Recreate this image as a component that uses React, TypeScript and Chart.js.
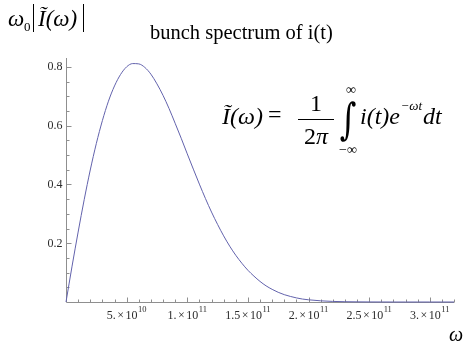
import { useEffect, useRef } from "react";
import { Chart, registerables } from "chart.js";

Chart.register(...registerables);

// Angular frequency samples, in units of 1e10 rad/s
const omegaE10 = [
  0, 0.5, 1, 1.5, 2, 2.5, 3, 3.5, 4, 4.5, 5, 5.5, 6, 6.5, 7, 7.5, 8, 8.5, 9, 9.5,
  10, 10.5, 11, 11.5, 12, 12.5, 13, 13.5, 14, 14.5, 15, 15.5, 16, 16.5, 17, 17.5,
  18, 18.5, 19, 19.5, 20, 21, 22, 23, 24, 25, 26, 27, 28, 29, 30, 31, 32,
];

// Normalised spectrum magnitude ω0·|Ĩ(ω)|
const spectrum = [
  0, 0.122, 0.238, 0.348, 0.449, 0.539, 0.617, 0.683, 0.735, 0.774, 0.8, 0.811,
  0.81, 0.798, 0.775, 0.742, 0.703, 0.658, 0.608, 0.557, 0.504, 0.452, 0.401,
  0.352, 0.306, 0.264, 0.225, 0.19, 0.159, 0.132, 0.108, 0.088, 0.07, 0.055,
  0.043, 0.033, 0.025, 0.019, 0.014, 0.01, 0.0075, 0.004, 0.002, 0.001, 0.0005,
  0.0002, 0.0001, 0, 0, 0, 0, 0, 0,
];

const xMajorTicks = [5e10, 1e11, 1.5e11, 2e11, 2.5e11, 3e11];
const xTickMantissas = ["5.", "1.", "1.5", "2.", "2.5", "3."];
const xTickExponents = ["10", "11", "11", "11", "11", "11"];
const yMajorTicks = [0.2, 0.4, 0.6, 0.8];
const yTickLabels = ["0.2", "0.4", "0.6", "0.8"];

const X_MAX = 3.2e11;
const Y_MAX = 0.83;
const X_MINOR_STEP = 1e10;
const Y_MINOR_STEP = 0.05;

const SERIF = '"Liberation Serif", "Times New Roman", "DejaVu Serif", serif';
const AXIS_COLOR = "#8f8f8f";
const LABEL_COLOR = "#2b2b2b";
const CURVE_COLOR = "rgb(98, 98, 172)";

const axesPlugin = {
  id: "mathAxes",
  beforeDatasetsDraw(chart: any) {
    const { ctx, scales } = chart;
    const xs = scales.x;
    const ys = scales.y;
    const x0 = Math.round(xs.getPixelForValue(0)) + 0.5;
    const y0 = Math.round(ys.getPixelForValue(0)) + 0.5;
    const xEnd = xs.getPixelForValue(X_MAX);
    const yTop = ys.getPixelForValue(Y_MAX);

    ctx.save();
    ctx.strokeStyle = AXIS_COLOR;
    ctx.lineWidth = 1;
    ctx.beginPath();
    ctx.moveTo(x0, y0);
    ctx.lineTo(xEnd, y0);
    ctx.moveTo(x0, y0);
    ctx.lineTo(x0, yTop);

    // x ticks point up into the plot
    for (let i = 1; i * X_MINOR_STEP <= X_MAX + 1; i++) {
      const px = Math.round(xs.getPixelForValue(i * X_MINOR_STEP)) + 0.5;
      const len = i % 5 === 0 ? 5 : 3;
      ctx.moveTo(px, y0);
      ctx.lineTo(px, y0 - len);
    }
    // y ticks point right into the plot
    for (let i = 1; i * Y_MINOR_STEP <= Y_MAX + 1e-9; i++) {
      const py = Math.round(ys.getPixelForValue(i * Y_MINOR_STEP)) + 0.5;
      const len = i % 4 === 0 ? 5 : 3;
      ctx.moveTo(x0, py);
      ctx.lineTo(x0 + len, py);
    }
    ctx.stroke();

    // y tick labels
    ctx.fillStyle = LABEL_COLOR;
    ctx.font = `12px ${SERIF}`;
    ctx.textAlign = "right";
    ctx.textBaseline = "middle";
    yMajorTicks.forEach((v, i) => {
      ctx.fillText(yTickLabels[i], x0 - 4, ys.getPixelForValue(v) + 0.5);
    });

    // x tick labels: mantissa × 10^exponent
    ctx.textAlign = "left";
    ctx.textBaseline = "alphabetic";
    const mainFont = `12px ${SERIF}`;
    const supFont = `8.5px ${SERIF}`;
    const baseY = 319;
    xMajorTicks.forEach((v, i) => {
      ctx.font = mainFont;
      const m = xTickMantissas[i];
      const wm = ctx.measureText(m).width;
      const wx = ctx.measureText("×").width;
      const wt = ctx.measureText("10").width;
      ctx.font = supFont;
      const we = ctx.measureText(xTickExponents[i]).width;
      const gap = 1.5;
      const total = wm + gap + wx + gap + wt + we + 0.5;
      let cx = xs.getPixelForValue(v) - total / 2;
      ctx.font = mainFont;
      ctx.fillText(m, cx, baseY);
      cx += wm + gap;
      ctx.fillText("×", cx, baseY);
      cx += wx + gap;
      ctx.fillText("10", cx, baseY);
      cx += wt + 0.5;
      ctx.font = supFont;
      ctx.fillText(xTickExponents[i], cx, baseY - 7);
    });
    ctx.restore();
  },
};

const textPlugin = {
  id: "annotations",
  afterDraw(chart: any) {
    const { ctx } = chart;
    ctx.save();
    ctx.fillStyle = "#000";
    ctx.strokeStyle = "#000";
    ctx.textBaseline = "alphabetic";
    ctx.textAlign = "left";

    // title
    ctx.font = `20.5px ${SERIF}`;
    ctx.fillText("bunch spectrum of i(t)", 150, 39);

    // vertical axis label ω0|Ĩ(ω)|
    ctx.font = `italic 23px ${SERIF}`;
    ctx.fillText("ω", 8, 26);
    ctx.font = `13px ${SERIF}`;
    ctx.fillText("0", 24, 31);
    ctx.font = `italic 23px ${SERIF}`;
    ctx.fillText("Ĩ(ω)", 38, 26);
    ctx.lineWidth = 1;
    ctx.beginPath();
    ctx.moveTo(33.5, 4);
    ctx.lineTo(33.5, 32);
    ctx.moveTo(83.5, 4);
    ctx.lineTo(83.5, 32);
    ctx.stroke();

    // horizontal axis label ω
    ctx.font = `italic 20px ${SERIF}`;
    ctx.fillText("ω", 449, 341);

    // Fourier transform definition
    const base = 124;
    ctx.font = `italic 24px ${SERIF}`;
    ctx.fillText("Ĩ(ω)", 222, base);
    ctx.font = `24px ${SERIF}`;
    ctx.fillText("=", 268, base - 2);

    ctx.textAlign = "center";
    ctx.fillText("1", 316, 111);
    ctx.beginPath();
    ctx.moveTo(298, 119.5);
    ctx.lineTo(334, 119.5);
    ctx.stroke();
    ctx.textAlign = "left";
    const w2 = ctx.measureText("2").width;
    ctx.font = `italic 24px ${SERIF}`;
    const wpi = ctx.measureText("π").width;
    const x2 = 316 - (w2 + wpi) / 2;
    ctx.font = `24px ${SERIF}`;
    ctx.fillText("2", x2, 144);
    ctx.font = `italic 24px ${SERIF}`;
    ctx.fillText("π", x2 + w2, 144);

    // integral sign with limits
    ctx.save();
    ctx.translate(348, 134);
    ctx.scale(1, 1.35);
    ctx.font = `32px "DejaVu Serif", serif`;
    ctx.textAlign = "center";
    ctx.fillText("∫", 0, 0);
    ctx.restore();
    ctx.font = `14px ${SERIF}`;
    ctx.textAlign = "center";
    ctx.fillText("∞", 351, 94);
    ctx.fillText("−∞", 348, 154);

    ctx.textAlign = "left";
    ctx.font = `italic 24px ${SERIF}`;
    let cx = 360;
    ctx.fillText("i(t)e", cx, base);
    cx += ctx.measureText("i(t)e").width + 0.5;
    ctx.font = `italic 13px ${SERIF}`;
    ctx.fillText("−ωt", cx, 110);
    cx += ctx.measureText("−ωt").width + 1;
    ctx.font = `italic 24px ${SERIF}`;
    ctx.fillText("dt", cx, base);
    ctx.restore();
  },
};

export default function App() {
  const canvasRef = useRef<HTMLCanvasElement | null>(null);

  useEffect(() => {
    document.body.style.margin = "0";
    const canvas = canvasRef.current;
    if (!canvas) return;
    const points = omegaE10.map((w, i) => ({ x: w * 1e10, y: spectrum[i] }));
    const chart = new Chart(canvas, {
      type: "line",
      data: {
        datasets: [
          {
            data: points,
            borderColor: CURVE_COLOR,
            borderWidth: 1,
            pointRadius: 0,
            fill: false,
            cubicInterpolationMode: "monotone",
            clip: false as any,
          },
        ],
      },
      options: {
        animation: false,
        responsive: false,
        devicePixelRatio: 1,
        layout: { padding: { left: 66, top: 58, right: 9, bottom: 41 } },
        plugins: {
          legend: { display: false },
          tooltip: { enabled: false },
          title: { display: false },
        },
        scales: {
          x: { type: "linear", min: 0, max: X_MAX, display: false },
          y: { type: "linear", min: 0, max: Y_MAX, display: false },
        },
      },
      plugins: [axesPlugin, textPlugin],
    });
    return () => chart.destroy();
  }, []);

  return (
    <div style={{ width: 463, height: 343, background: "#fff" }}>
      <canvas ref={canvasRef} width={463} height={343} />
    </div>
  );
}
